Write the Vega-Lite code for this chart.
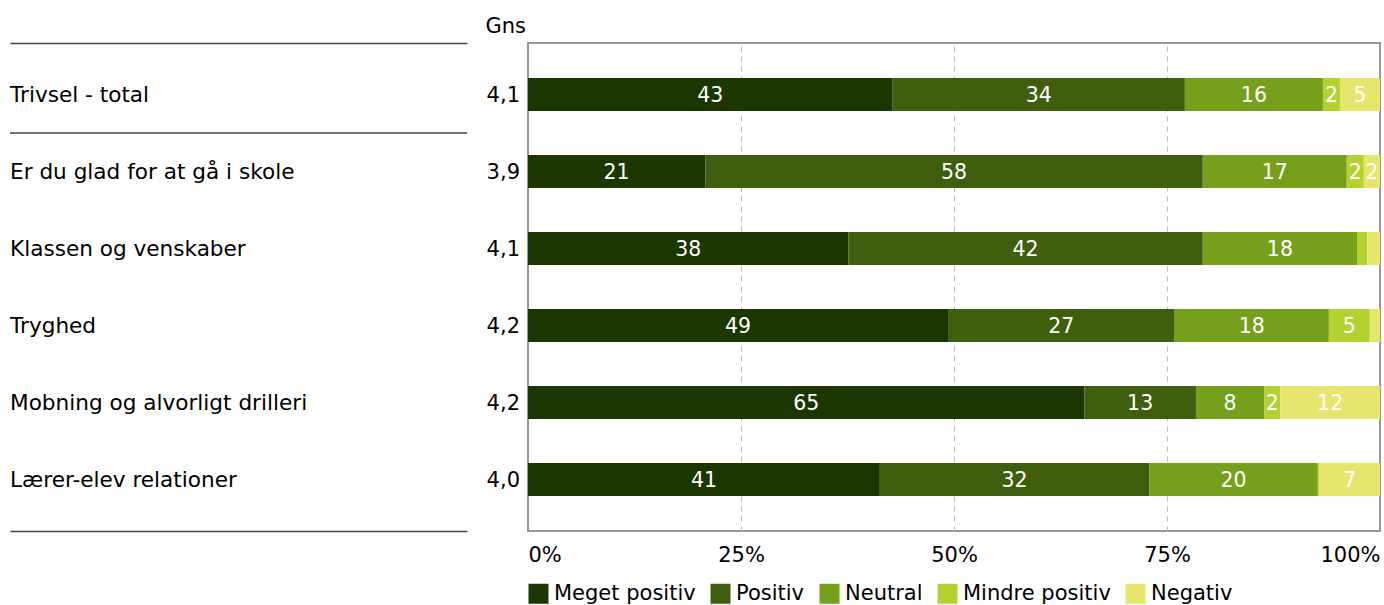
{
  "$schema": "https://vega.github.io/schema/vega-lite/v6.json",
  "padding": {"left": 9, "top": 16, "right": 4, "bottom": 0},
  "config": {
    "font": "DejaVu Sans",
    "view": {"stroke": null},
    "axis": {"labelColor": "#000", "labelFontSize": 21},
    "legend": {"labelColor": "#000", "labelFontSize": 21},
    "title": {"color": "#000"}
  },
  "datasets": {
    "rows": [
      {"name": "Trivsel - total", "gns": "4,1"},
      {"name": "Er du glad for at gå i skole", "gns": "3,9"},
      {"name": "Klassen og venskaber", "gns": "4,1"},
      {"name": "Tryghed", "gns": "4,2"},
      {"name": "Mobning og alvorligt drilleri", "gns": "4,2"},
      {"name": "Lærer-elev relationer", "gns": "4,0"}
    ],
    "bars": [
      {"name": "Trivsel - total", "cat": "Meget positiv", "o": 1, "value": 42.8},
      {"name": "Trivsel - total", "cat": "Positiv", "o": 2, "value": 34.3},
      {"name": "Trivsel - total", "cat": "Neutral", "o": 3, "value": 16.2},
      {"name": "Trivsel - total", "cat": "Mindre positiv", "o": 4, "value": 2.0},
      {"name": "Trivsel - total", "cat": "Negativ", "o": 5, "value": 4.7},
      {"name": "Er du glad for at gå i skole", "cat": "Meget positiv", "o": 1, "value": 20.8},
      {"name": "Er du glad for at gå i skole", "cat": "Positiv", "o": 2, "value": 58.4},
      {"name": "Er du glad for at gå i skole", "cat": "Neutral", "o": 3, "value": 16.9},
      {"name": "Er du glad for at gå i skole", "cat": "Mindre positiv", "o": 4, "value": 2.0},
      {"name": "Er du glad for at gå i skole", "cat": "Negativ", "o": 5, "value": 1.9},
      {"name": "Klassen og venskaber", "cat": "Meget positiv", "o": 1, "value": 37.6},
      {"name": "Klassen og venskaber", "cat": "Positiv", "o": 2, "value": 41.6},
      {"name": "Klassen og venskaber", "cat": "Neutral", "o": 3, "value": 18.1},
      {"name": "Klassen og venskaber", "cat": "Mindre positiv", "o": 4, "value": 1.2},
      {"name": "Klassen og venskaber", "cat": "Negativ", "o": 5, "value": 1.5},
      {"name": "Tryghed", "cat": "Meget positiv", "o": 1, "value": 49.3},
      {"name": "Tryghed", "cat": "Positiv", "o": 2, "value": 26.6},
      {"name": "Tryghed", "cat": "Neutral", "o": 3, "value": 18.1},
      {"name": "Tryghed", "cat": "Mindre positiv", "o": 4, "value": 4.8},
      {"name": "Tryghed", "cat": "Negativ", "o": 5, "value": 1.2},
      {"name": "Mobning og alvorligt drilleri", "cat": "Meget positiv", "o": 1, "value": 65.3},
      {"name": "Mobning og alvorligt drilleri", "cat": "Positiv", "o": 2, "value": 13.1},
      {"name": "Mobning og alvorligt drilleri", "cat": "Neutral", "o": 3, "value": 8.0},
      {"name": "Mobning og alvorligt drilleri", "cat": "Mindre positiv", "o": 4, "value": 1.9},
      {"name": "Mobning og alvorligt drilleri", "cat": "Negativ", "o": 5, "value": 11.7},
      {"name": "Lærer-elev relationer", "cat": "Meget positiv", "o": 1, "value": 41.3},
      {"name": "Lærer-elev relationer", "cat": "Positiv", "o": 2, "value": 31.6},
      {"name": "Lærer-elev relationer", "cat": "Neutral", "o": 3, "value": 19.8},
      {"name": "Lærer-elev relationer", "cat": "Mindre positiv", "o": 4, "value": 0.2},
      {"name": "Lærer-elev relationer", "cat": "Negativ", "o": 5, "value": 7.1}
    ]
  },
  "spacing": 2,
  "bounds": "flush",
  "resolve": {"scale": {"x": "independent", "y": "independent"}, "legend": {"color": "independent"}},
  "hconcat": [
    {
      "width": 457,
      "height": 488,
      "data": {"name": "rows"},
      "resolve": {"axis": {"x": "independent"}},
      "layer": [
        {
          "mark": {"type": "text", "align": "left", "fontSize": 21.6, "color": "#000", "dy": 1.5},
          "encoding": {
            "y": {"field": "name", "type": "nominal", "sort": null, "scale": {"type": "band", "paddingInner": 0, "paddingOuter": 0.169}, "axis": null},
            "x": {"datum": 0, "type": "quantitative", "scale": {"domain": [0, 1]},
              "axis": {"orient": "bottom", "title": null, "labels": false, "ticks": false, "grid": false, "domain": true, "domainColor": "#444", "domainWidth": 1.5}},
            "text": {"field": "name"}
          }
        },
        {
          "transform": [{"filter": "datum.name === 'Trivsel - total'"}],
          "mark": {"type": "rule", "color": "#444", "strokeWidth": 1.5},
          "encoding": {
            "y": {"field": "name", "type": "nominal", "sort": null, "bandPosition": 1},
            "x": {"datum": 0, "type": "quantitative",
              "axis": {"orient": "top", "title": null, "labels": false, "ticks": false, "grid": false, "domain": true, "domainColor": "#444", "domainWidth": 1.5}},
            "x2": {"datum": 1}
          }
        }
      ]
    },
    {
      "width": 57,
      "height": 488,
      "data": {"name": "rows"},
      "title": {"text": "Gns", "anchor": "end", "fontSize": 21, "fontWeight": "normal", "offset": 6},
      "mark": {"type": "text", "align": "right", "dx": -6, "dy": 1.5, "fontSize": 21, "color": "#000"},
      "encoding": {
        "y": {"field": "name", "type": "nominal", "sort": null, "scale": {"type": "band", "paddingInner": 0, "paddingOuter": 0.169}, "axis": null},
        "x": {"datum": 1, "type": "quantitative", "scale": {"domain": [0, 1]}, "axis": null},
        "text": {"field": "gns"}
      }
    },
    {
      "width": 852,
      "height": 488,
      "data": {"name": "bars"},
      "view": {"stroke": "#999", "strokeWidth": 2},
      "encoding": {
        "y": {"field": "name", "type": "nominal", "sort": null, "scale": {"type": "band", "paddingInner": 0, "paddingOuter": 0.169}, "axis": null}
      },
      "layer": [
        {
          "mark": {"type": "bar", "height": {"band": 0.43}},
          "encoding": {
            "x": {"field": "value", "type": "quantitative", "stack": "normalize",
              "axis": {"title": null, "values": [0, 0.25, 0.5, 0.75, 1], "format": ".0%", "labelFlush": true, "ticks": false, "domain": false,
                "grid": true, "gridDash": [5, 5], "gridColor": "#bbb",
                "gridOpacity": {"condition": {"test": "datum.value > 0 && datum.value < 1", "value": 1}, "value": 0},
                "labelPadding": 13}},
            "color": {"field": "cat", "type": "nominal",
              "scale": {"domain": ["Meget positiv", "Positiv", "Neutral", "Mindre positiv", "Negativ"],
                "range": ["#1c3600", "#3f5f0f", "#76a01c", "#b4d22f", "#e6e66e"]},
              "legend": {"orient": "bottom", "direction": "horizontal", "title": null, "symbolType": "square", "symbolSize": 400,
                "symbolStrokeWidth": 0, "columnPadding": 14, "labelOffset": 5, "offset": 18}},
            "order": {"field": "o"}
          }
        },
        {
          "mark": {"type": "text", "color": "white", "fontSize": 20.5, "dy": 1.5},
          "encoding": {
            "x": {"field": "value", "type": "quantitative", "stack": "normalize", "bandPosition": 0.5},
            "text": {"condition": {"test": "datum.value < 1.8", "value": ""}, "field": "value", "format": ".0f"},
            "order": {"field": "o"}
          }
        }
      ]
    }
  ]
}
